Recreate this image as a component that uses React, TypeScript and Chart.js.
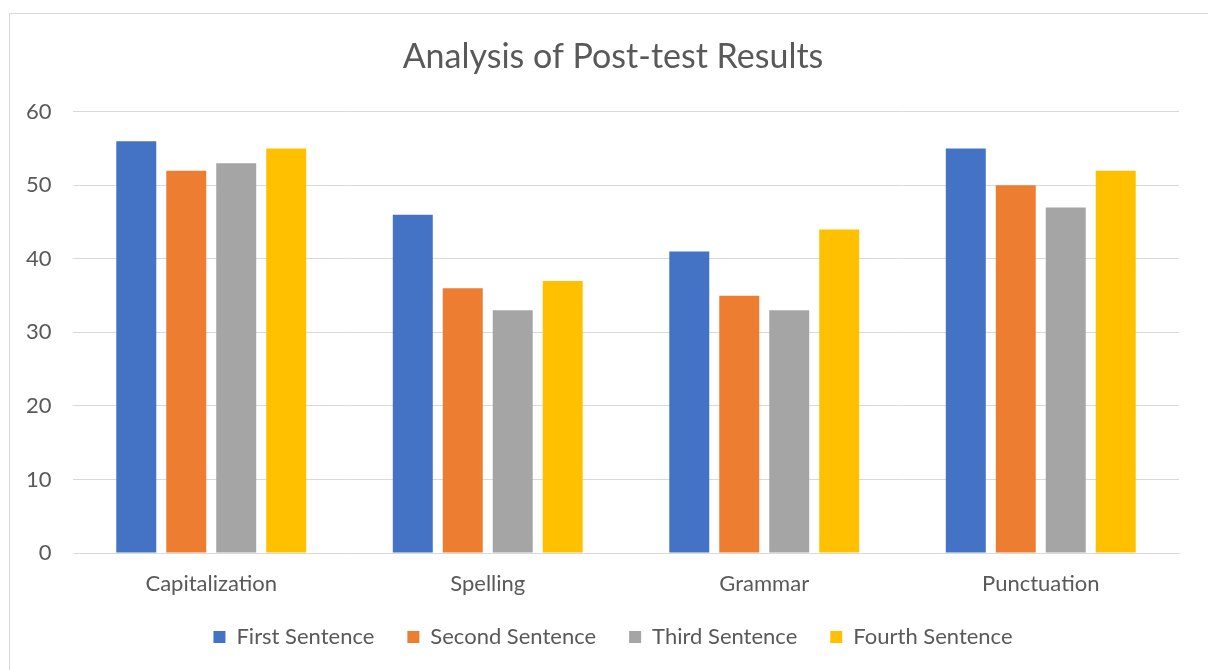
import React, { useEffect, useRef } from "react";
import { Chart, registerables } from "chart.js";

Chart.register(...registerables);

const categories = ["Capitalization", "Spelling", "Grammar", "Punctuation"];
const seriesNames = ["First Sentence", "Second Sentence", "Third Sentence", "Fourth Sentence"];
const firstSentence = [56, 46, 41, 55];
const secondSentence = [52, 36, 35, 50];
const thirdSentence = [53, 33, 33, 47];
const fourthSentence = [55, 37, 44, 52];
const seriesColors = ["#4472C4", "#ED7D31", "#A5A5A5", "#FFC000"];
const yTicks = [0, 10, 20, 30, 40, 50, 60];

const FONT = "Lato, 'Open Sans', sans-serif";
const TEXT = "#595959";

export default function App() {
  const ref = useRef<HTMLCanvasElement | null>(null);

  useEffect(() => {
    document.body.style.margin = "0";
    document.body.style.overflow = "hidden";
    const values = [firstSentence, secondSentence, thirdSentence, fourthSentence];
    const chart = new Chart(ref.current!, {
      type: "bar",
      data: {
        labels: categories,
        datasets: seriesNames.map((name, i) => ({
          label: name,
          data: values[i],
          backgroundColor: seriesColors[i],
          borderWidth: 0,
          barPercentage: 0.8,
          categoryPercentage: 0.723,
        })),
      },
      options: {
        responsive: false,
        animation: false,
        layout: { padding: { left: 47, right: 29, top: 0, bottom: 32 } },
        plugins: {
          title: {
            display: true,
            text: "Analysis of Post-test Results",
            color: TEXT,
            font: { family: FONT, size: 34, weight: "normal" },
            padding: { top: 37, bottom: 34 },
          },
          legend: {
            position: "bottom",
            labels: {
              color: TEXT,
              font: { family: FONT, size: 22 },
              boxWidth: 12,
              boxHeight: 12,
              padding: 33,
            },
          },
          tooltip: { enabled: false },
        },
        scales: {
          x: {
            afterFit: (s: any) => {
              s.height = 40;
            },
            grid: { display: false, drawTicks: false },
            border: { display: true, color: "#d9d9d9", width: 1 },
            ticks: { color: TEXT, font: { family: FONT, size: 22 }, mirror: true, padding: -44 },
          },
          y: {
            min: 0,
            max: 60,
            afterFit: (s: any) => {
              s.width = 26;
            },
            afterBuildTicks: (s: any) => {
              s.ticks = yTicks.map((v) => ({ value: v }));
            },
            grid: { color: "#d9d9d9", lineWidth: 1, drawTicks: false },
            border: { display: false },
            ticks: {
              color: TEXT,
              font: { family: FONT, size: 22 },
              mirror: true,
              crossAlign: "far",
              padding: -47,
            },
          },
        },
      },
    } as any);
    return () => chart.destroy();
  }, []);

  return (
    <div style={{ position: "fixed", left: 0, top: 0, width: 1208, height: 670, overflow: "hidden", background: "#fff" }}>
      <div
        style={{
          position: "absolute",
          left: 9,
          top: 13,
          width: 1300,
          height: 800,
          border: "1px solid #d9d9d9",
          boxSizing: "border-box",
        }}
      />
      <canvas ref={ref} width={1208} height={690} style={{ position: "absolute", left: 0, top: 0 }} />
    </div>
  );
}
